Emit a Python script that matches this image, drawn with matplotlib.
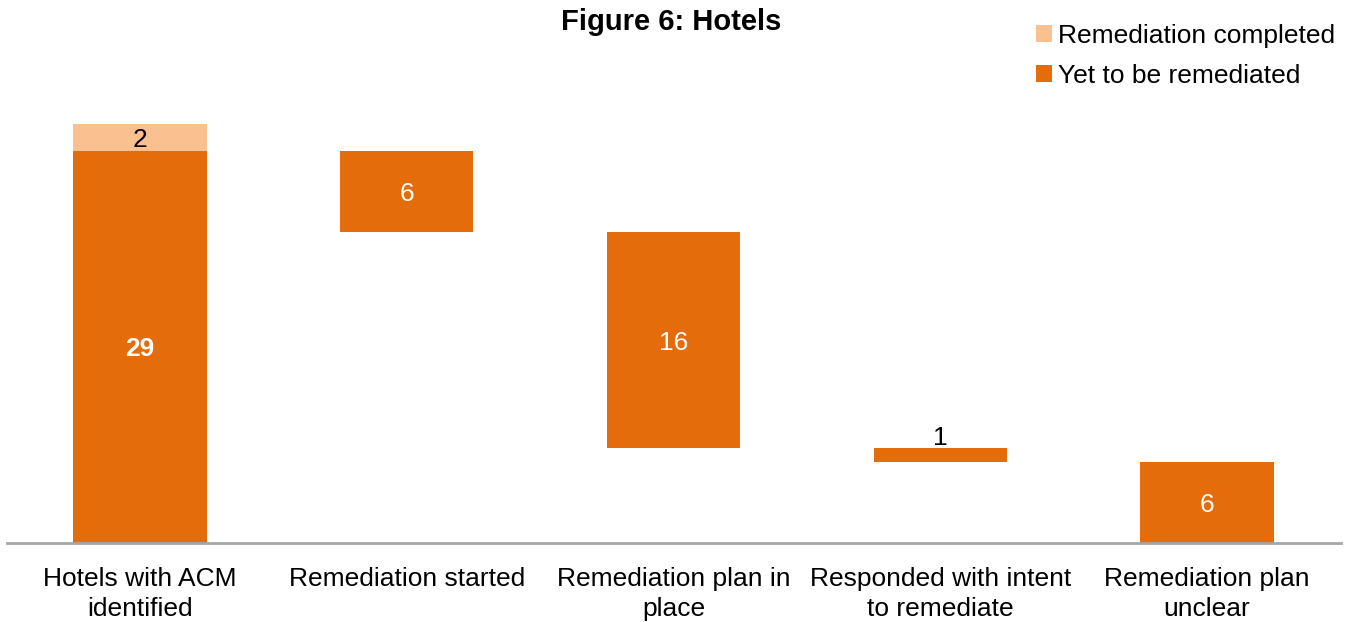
import matplotlib
matplotlib.use("Agg")
import matplotlib.pyplot as plt
from matplotlib.patches import Patch

categories = ["Hotels with ACM\nidentified", "Remediation started",
              "Remediation plan in\nplace", "Responded with intent\nto remediate",
              "Remediation plan\nunclear"]
yet_to_remediate = [29, 6, 16, 1, 6]
completed = [2, 0, 0, 0, 0]
# waterfall: floating bases
bases = [0, 23, 7, 6, 0]

DARK = "#E46C0A"
LIGHT = "#FAC090"

plt.rcParams['font.family'] = ['Liberation Sans', 'DejaVu Sans']

fig = plt.figure(figsize=(13.52, 6.22), dpi=100)
ax = fig.add_axes([6.5/1352, 1 - 543/622, 1334/1352, 432.6/622])

x = list(range(len(categories)))
ax.bar(x, yet_to_remediate, bottom=bases, width=0.5, color=DARK, zorder=2)
tops = [b + v for b, v in zip(bases, yet_to_remediate)]
ax.bar(x, completed, bottom=tops, width=0.5, color=LIGHT, zorder=2)

ax.set_xlim(-0.5, 4.5)
ax.set_ylim(0, 32)

# labels
for i, (b, v) in enumerate(zip(bases, yet_to_remediate)):
    if i == 0:
        ax.text(i, b + v / 2, str(v), ha="center", va="center_baseline", color="white",
                fontsize=19, fontweight="bold")
    elif v >= 3:
        ax.text(i, b + v / 2, str(v), ha="center", va="center_baseline", color="white",
                fontsize=19)
    else:
        ax.text(i, b + v - 0.15, str(v), ha="center", va="bottom", color="black",
                fontsize=19)
for i, (t, c) in enumerate(zip(tops, completed)):
    if c:
        ax.text(i, t + c / 2, str(c), ha="center", va="center_baseline", color="black",
                fontsize=19)

ax.set_xticks(x)
ax.set_xticklabels(categories, fontsize=19, linespacing=1.32)
ax.tick_params(axis="x", length=0, pad=17)
ax.set_yticks([])
for s in ["top", "right", "left"]:
    ax.spines[s].set_visible(False)
ax.spines["bottom"].set_color("#A6A6A6")
ax.spines["bottom"].set_linewidth(2)

fig.text(671/1352, 1 - 22/622, "Figure 6: Hotels", ha="center", va="center",
         fontsize=21, fontweight="bold")

handles = [Patch(facecolor=LIGHT, edgecolor="none"), Patch(facecolor=DARK, edgecolor="none")]
fig.legend(handles, ["Remediation completed", "Yet to be remediated"],
           loc="upper left", bbox_to_anchor=(1025.5/1352, 1 - 13/622),
           frameon=False, fontsize=19, handlelength=0.6, handleheight=0.6,
           handletextpad=0.25, labelspacing=0.62, borderaxespad=0)

fig.savefig("out.png", dpi=100)
